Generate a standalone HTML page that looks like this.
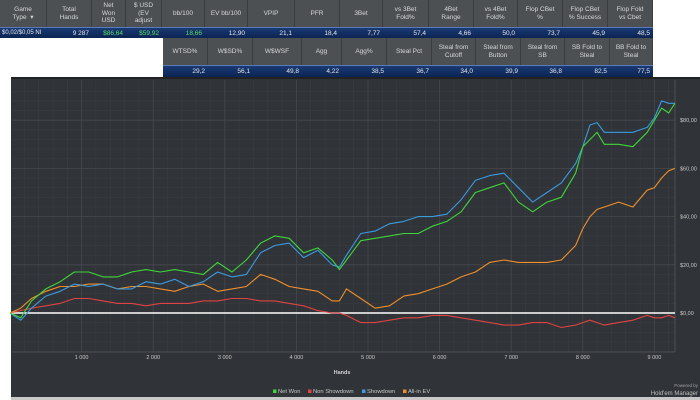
<!DOCTYPE html>
<html><head><meta charset="utf-8"><style>
body{margin:0;width:700px;height:400px;background:#fff;overflow:hidden;font-family:"Liberation Sans",sans-serif;position:relative}
.h{position:absolute;background:#4d5053;color:#d6d6d6;font-size:6.5px;line-height:7.5px;display:flex;align-items:center;justify-content:center;text-align:center;box-sizing:border-box;border-right:1px solid #3a3c3e}
.d{position:absolute;background:linear-gradient(#1a3a74,#0b2452);color:#e6e6e6;font-size:6.5px;line-height:11px;text-align:right;padding-right:3px;box-sizing:border-box;border-top:1px solid #5a7ab8;white-space:nowrap;overflow:visible}
.g{color:#5fdc6a}
#panel{position:absolute;left:11px;top:77px;width:689px;height:321px;background:#303337;border-top:2px solid #222}
#strip{position:absolute;left:11px;top:397px;width:689px;height:3px;background:#c8c8c8}
</style></head><body>
<div id="tbl"></div>
<div id="panel"></div>
<div id="strip"></div>
<svg id="chart" width="700" height="400" style="position:absolute;left:0;top:0"></svg>
<script>
const hands=[0,150,300,500,700,900,1100,1300,1500,1700,1900,2100,2300,2500,2700,2900,3100,3300,3500,3700,3900,4100,4300,4500,4600,4700,4900,5100,5300,5500,5700,5900,6100,6300,6500,6700,6900,7100,7300,7500,7700,7900,8000,8100,8200,8300,8500,8700,8900,9000,9100,9200,9287];
const netWon=[0,-2,5,10,13,17,17,15,15,17,18,17,18,17,16,21,17,22,29,32,31,25,27,22,18,22,30,31,32,33,33,36,38,42,50,52,54,46,42,46,48,58,69,72,75,70,70,69,75,80,85,83,87];
const showdown=[0,-3,2,7,9,12,11,12,10,10,13,12,14,11,13,17,15,16,25,28,29,23,26,20,19,24,33,34,37,38,40,40,41,47,55,57,58,52,46,50,54,62,69,78,79,75,75,75,77,81,88,87,87];
const allinEV=[0,2,6,9,11,11,12,12,10,11,11,10,9,11,12,9,10,11,16,14,11,10,9,5,5,10,6,2,3,7,8,10,12,15,17,21,22,21,21,21,22,28,35,40,43,44,46,44,51,52,56,59,60];
const nonShowdown=[0,1,2,3,4,6,6,5,4,4,3,4,4,4,5,5,6,6,5,5,4,3,1,0,0,-1,-4,-4,-3,-2,-2,-1,-1,-2,-3,-4,-5,-5,-4,-4,-6,-5,-4,-3,-4,-5,-4,-3,-1,-2,-2,-1,-2];
const xTicks=[1000,2000,3000,4000,5000,6000,7000,8000,9000];
const xTickLabels=["1 000","2 000","3 000","4 000","5 000","6 000","7 000","8 000","9 000"];
const yTicks=[0,20,40,60,80];
const yTickLabels=["$0,00","$20,00","$40,00","$60,00","$80,00"];

const NS='http://www.w3.org/2000/svg';
const svg=document.getElementById('chart');
const L=12,R=675,T=80,B=352;
const x=h=>10+h*0.0716;
const y=v=>313-2.41*v;
function el(t,a,p){const e=document.createElementNS(NS,t);for(const k in a)e.setAttribute(k,a[k]);(p||svg).appendChild(e);return e;}
for(let h=200;h<9300;h+=200){if(h%1000==0)continue;const g=el('line',{x1:x(h),x2:x(h),y1:T,y2:B,stroke:'#393c40','stroke-width':0.6});}
for(let v=-16;v<=92;v+=4){if(v%20==0)continue;const yy=y(v);if(yy<T||yy>B)continue;const g=el('line',{x1:L,x2:R,y1:yy,y2:yy,stroke:'#393c40','stroke-width':0.6});}
xTicks.forEach((h,i)=>{const g=el('line',{x1:x(h),x2:x(h),y1:T,y2:B,stroke:'#45494e','stroke-width':0.8});
const t=el('text',{x:x(h),y:359,fill:'#c8c8c8','font-size':5.5,'text-anchor':'middle'});t.textContent=xTickLabels[i];});
yTicks.forEach((v,i)=>{if(v){const g=el('line',{x1:L,x2:R,y1:y(v),y2:y(v),stroke:'#45494e','stroke-width':0.8});}
const t=el('text',{x:680,y:y(v)+2,fill:'#c8c8c8','font-size':5.5});t.textContent=yTickLabels[i];});
const ax=el('line',{x1:L,x2:R,y1:B,y2:B,stroke:'#55585c','stroke-width':0.8});
const ay=el('line',{x1:R,x2:R,y1:T,y2:B,stroke:'#55585c','stroke-width':0.8});
const zl=el('line',{x1:L,x2:R,y1:y(0),y2:y(0),stroke:'#ffffff','stroke-width':1.4});
function series(vals,color,name){let d='';vals.forEach((v,i)=>{d+=(i==0?'M':' L')+x(hands[i]).toFixed(1)+' '+y(v).toFixed(1);});
const p=el('path',{d:d,fill:'none',stroke:color,'stroke-width':1.1,'stroke-linejoin':'round'});}
series(nonShowdown,'#e04343','non-showdown-line');
series(allinEV,'#f0902c','all-in-ev-line');
series(showdown,'#3a9be0','showdown-line');
series(netWon,'#3fd63a','net-won-line');
const ht=el('text',{x:342,y:374,fill:'#d0d0d0','font-size':5.5,'font-weight':'bold','text-anchor':'middle'});ht.textContent='Hands';
const leg=[['Net Won','#3fd63a',273],['Non Showdown','#e04343',308],['Showdown','#3a9be0',362],['All-in EV','#f0902c',403]];
leg.forEach(l=>{const g=el('g',{});
el('rect',{x:l[2],y:389.5,width:3.5,height:3.5,fill:l[1]},g);const t=el('text',{x:l[2]+5,y:393,fill:'#c8c8c8','font-size':5.8},g);t.textContent=l[0];});
const pb=el('text',{x:698,y:387,fill:'#a0a0a0','font-size':4.5,'text-anchor':'end'});pb.textContent='Powered by';
const hm=el('text',{x:698,y:395,fill:'#c0c0c0','font-size':6,'text-anchor':'end'});hm.textContent="Hold'em Manager";

const tbl=document.getElementById('tbl');
function cell(cls,l,t,w,h,html,name){const d=document.createElement('div');d.className=cls;d.style.cssText=`left:${l}px;top:${t}px;width:${w}px;height:${h}px`;d.innerHTML=html;tbl.appendChild(d);return d;}
const c1=[0,47,92,126,162,205,248,295,340,383,429,474,518,563,608,653];
const h1=['Game<br>Type &nbsp;▾','Total<br>Hands','Net<br>Won<br>USD','$ USD<br>(EV<br>adjust','bb/100','EV bb/100','VPIP','PFR','3Bet','vs 3Bet<br>Fold%','4Bet<br>Range','vs 4Bet<br>Fold%','Flop CBet<br>%','Flop CBet<br>% Success','Flop Fold<br>vs Cbet'];
const v1=['$0,02/$0,05 NI','9 287','<span class="g">$86,64</span>','<span class="g">$59,92</span>','<span class="g">18,66</span>','12,90','21,1','18,4','7,77','57,4','4,66','50,0','73,7','45,9','48,5'];
for(let i=0;i<h1.length;i++){cell('h',c1[i],0,c1[i+1]-c1[i],27,h1[i],'column-header');const d=cell('d',c1[i],27,c1[i+1]-c1[i],11,v1[i],'stat-value');if(i==0){d.style.textAlign='left';d.style.paddingLeft='2px';d.style.fontSize='6px';}}
const c2=[163,208,253,302,342,387,432,476,521,565,610,653];
const h2=['WTSD%','W$SD%','W$WSF','Agg','Agg%','Steal Pct','Steal from<br>Cutoff','Steal from<br>Button','Steal from<br>SB','SB Fold to<br>Steal','BB Fold to<br>Steal'];
const v2=['29,2','56,1','49,8','4,22','38,5','36,7','34,0','39,9','36,8','82,5','77,5'];
for(let i=0;i<h2.length;i++){cell('h',c2[i],38,c2[i+1]-c2[i],27,h2[i],'column-header');cell('d',c2[i],65,c2[i+1]-c2[i],12,v2[i],'stat-value');}
</script>
</body></html>
